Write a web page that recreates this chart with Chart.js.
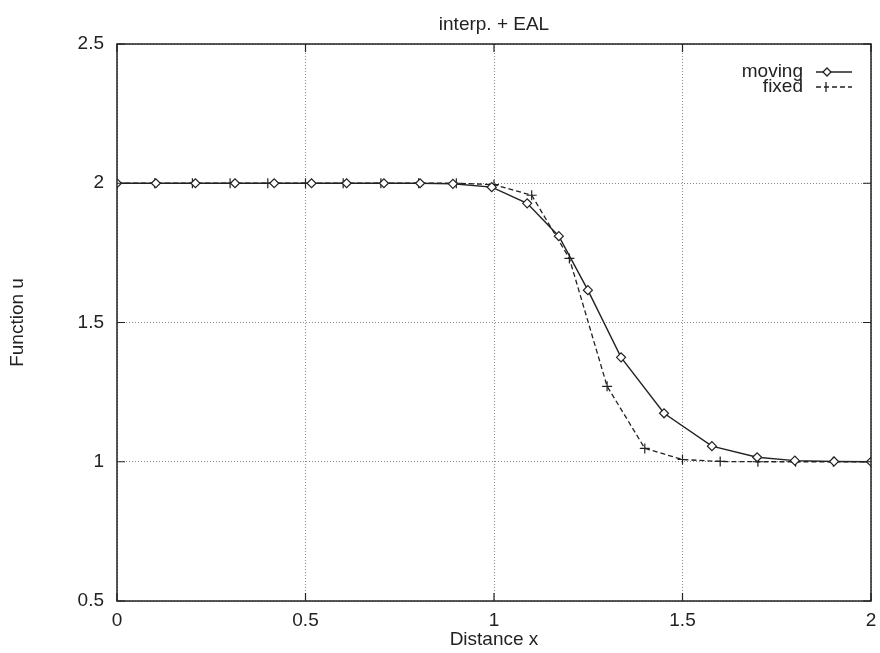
<!DOCTYPE html>
<html>
<head>
<meta charset="utf-8">
<script src="https://cdn.jsdelivr.net/npm/chart.js@4/dist/chart.umd.min.js"></script>
<style>
  html, body { margin: 0; padding: 0; background: #fff; }
  #wrap { width: 880px; height: 653px; }
</style>
</head>
<body>
<div id="wrap"><canvas id="myChart"></canvas></div>
<script>
// moving grid: node positions and values
const moving_x = [0, 0.103, 0.208, 0.313, 0.417, 0.516, 0.609, 0.708, 0.804, 0.891, 0.994,
    1.088, 1.172, 1.249, 1.337, 1.451, 1.578, 1.698, 1.798, 1.902, 2.0];
const moving_u = [2, 2, 2, 2, 2, 2, 2, 2, 2, 1.998, 1.986,
    1.928, 1.81, 1.616, 1.375, 1.174, 1.056, 1.016, 1.004, 1.001, 1.0];

// fixed grid
const fixed_x = [0, 0.1, 0.2, 0.3, 0.4, 0.5, 0.6, 0.7, 0.8, 0.9, 1.0,
    1.1, 1.2, 1.3, 1.4, 1.5, 1.6, 1.7, 1.8, 1.9, 2.0];
const fixed_u = [2, 2, 2, 2, 2, 2, 2, 2, 2, 2, 1.995,
    1.957, 1.73, 1.271, 1.048, 1.008, 1.001, 1.0, 1.0, 1.0, 1.0];

const x_ticks = [0, 0.5, 1, 1.5, 2];
const y_ticks = [0.5, 1, 1.5, 2, 2.5];

const FONT = "'Liberation Sans', Arial, Helvetica, sans-serif";
const INK = "#222";
const SIZE = 19;

// title over the plot, box, inward ticks and the gnuplot style legend
const framePlugin = {
    id: "frame",
    afterDraw(chart) {
        const ctx = chart.ctx;
        const a = chart.chartArea;
        const xs = chart.scales.x;
        const ys = chart.scales.y;
        ctx.save();

        ctx.font = SIZE + "px " + FONT;
        ctx.fillStyle = INK;
        ctx.textAlign = "center";
        ctx.textBaseline = "alphabetic";
        ctx.fillText("interp. + EAL", (a.left + a.right) / 2, 30);

        ctx.strokeStyle = INK;
        ctx.lineWidth = 1.5;
        ctx.strokeRect(a.left, a.top, a.right - a.left, a.bottom - a.top);

        ctx.lineWidth = 1.2;
        ctx.beginPath();
        x_ticks.forEach(v => {
            const px = xs.getPixelForValue(v);
            ctx.moveTo(px, a.bottom); ctx.lineTo(px, a.bottom - 8);
            ctx.moveTo(px, a.top); ctx.lineTo(px, a.top + 8);
        });
        y_ticks.forEach(v => {
            const py = ys.getPixelForValue(v);
            ctx.moveTo(a.left, py); ctx.lineTo(a.left + 8, py);
            ctx.moveTo(a.right, py); ctx.lineTo(a.right - 8, py);
        });
        ctx.stroke();

        // legend
        ctx.textAlign = "right";
        ctx.textBaseline = "middle";
        const rows = [
            {label: "moving", y: 72, dash: [], marker: "diamond"},
            {label: "fixed", y: 87, dash: [5, 3], marker: "cross"},
        ];
        rows.forEach(r => {
            ctx.fillStyle = INK;
            ctx.fillText(r.label, 803, r.y);
            ctx.setLineDash(r.dash);
            ctx.lineWidth = 1.3;
            ctx.strokeStyle = INK;
            ctx.beginPath();
            ctx.moveTo(816, r.y);
            ctx.lineTo(852, r.y);
            ctx.stroke();
            ctx.setLineDash([]);
            ctx.beginPath();
            if (r.marker === "diamond") {
                ctx.moveTo(827, r.y - 4);
                ctx.lineTo(831, r.y);
                ctx.lineTo(827, r.y + 4);
                ctx.lineTo(823, r.y);
                ctx.closePath();
                ctx.fillStyle = "#fff";
                ctx.fill();
                ctx.stroke();
            } else {
                ctx.moveTo(826, r.y - 5);
                ctx.lineTo(826, r.y + 5);
                ctx.stroke();
            }
        });
        ctx.restore();
    }
};

const ctx = document.getElementById("myChart");

new Chart(ctx, {
    type: "line",
    data: {
        datasets: [{
            label: "moving",
            data: moving_x.map((x, i) => ({x: x, y: moving_u[i]})),
            borderColor: INK,
            borderWidth: 1.4,
            pointStyle: "rectRot",
            pointRadius: 4.5,
            pointBorderWidth: 1.2,
            pointBackgroundColor: "#fff",
            pointBorderColor: INK,
            tension: 0,
        }, {
            label: "fixed",
            data: fixed_x.map((x, i) => ({x: x, y: fixed_u[i]})),
            borderColor: INK,
            borderWidth: 1.3,
            borderDash: [5, 3],
            pointStyle: "cross",
            pointRadius: 5,
            pointBorderWidth: 1.2,
            pointBorderColor: INK,
            tension: 0,
        }]
    },
    options: {
        responsive: true,
        maintainAspectRatio: false,
        animation: false,
        layout: { padding: { top: 44, right: 9, left: 0, bottom: 0 } },
        plugins: {
            legend: { display: false },
            tooltip: { enabled: false },
            title: { display: false },
        },
        scales: {
            x: {
                type: "linear",
                min: 0,
                max: 2,
                afterBuildTicks: s => { s.ticks = x_ticks.map(v => ({value: v})); },
                afterFit: s => { s.height = 52; s.paddingLeft = 0; s.paddingRight = 0; },
                ticks: {
                    color: INK,
                    font: { family: FONT, size: SIZE },
                    padding: 8,
                    maxRotation: 0,
                    callback: v => String(v),
                },
                grid: { color: "#888", lineWidth: 1, drawTicks: false },
                border: { display: false, dash: [1, 2] },
                title: {
                    display: true,
                    text: "Distance x",
                    color: INK,
                    font: { family: FONT, size: SIZE },
                    padding: { top: 0, bottom: 2 },
                },
            },
            y: {
                type: "linear",
                min: 0.5,
                max: 2.5,
                afterBuildTicks: s => { s.ticks = y_ticks.map(v => ({value: v})); },
                afterFit: s => { s.width = 117; },
                ticks: {
                    color: INK,
                    font: { family: FONT, size: SIZE },
                    padding: 13,
                    callback: v => String(v),
                },
                grid: { color: "#888", lineWidth: 1, drawTicks: false },
                border: { display: false, dash: [1, 2] },
                title: {
                    display: true,
                    text: "Function u",
                    color: INK,
                    font: { family: FONT, size: SIZE },
                    padding: { top: 6, bottom: 0 },
                },
            },
        },
    },
    plugins: [framePlugin],
});
</script>
</body>
</html>
